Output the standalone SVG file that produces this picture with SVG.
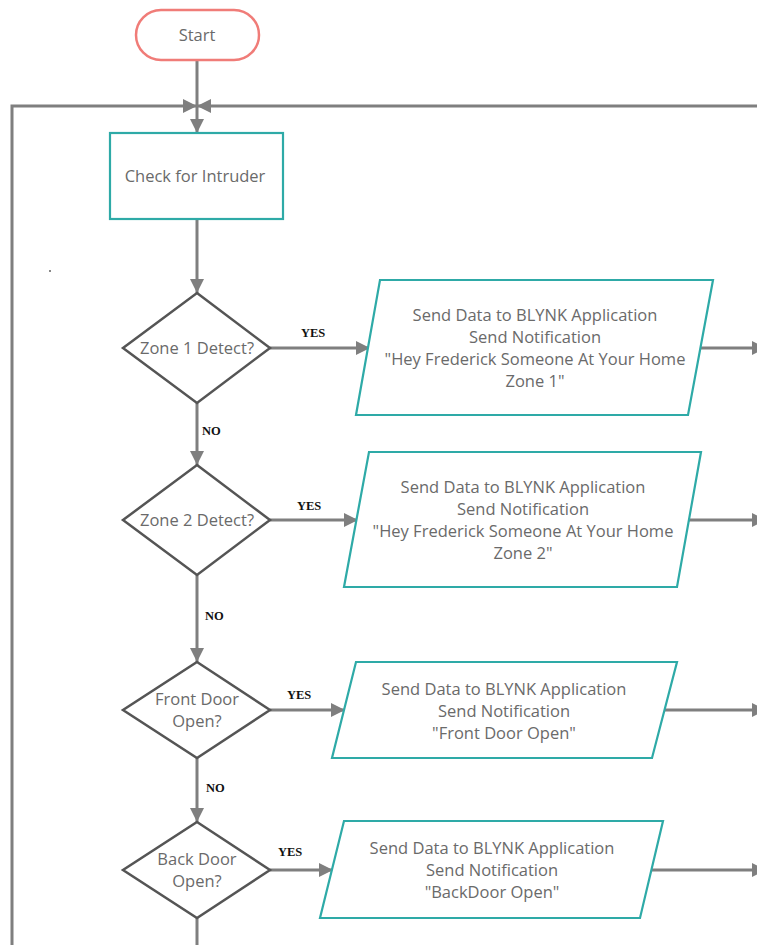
<svg xmlns="http://www.w3.org/2000/svg" width="757" height="945" viewBox="0 0 757 945">
<defs>
<marker id="ah" markerUnits="userSpaceOnUse" markerWidth="16" markerHeight="16" viewBox="0 0 16 16" refX="14" refY="8" orient="auto">
<path d="M0,1 L14,8 L0,15 Z" fill="#7f7f7f"/>
</marker>
</defs>
<style>
.conn{fill:none;stroke:#7f7f7f;stroke-width:3}
.box{fill:#fff;stroke:#2eaaa7;stroke-width:2.2}
.dia{fill:#fff;stroke:#555;stroke-width:2.5}
.t{font-family:"Open Sans","Noto Sans",sans-serif;font-size:16.5px;fill:#6a6a6a;text-anchor:middle}
.lbl{font-family:"Liberation Serif","Times New Roman",serif;font-size:12.5px;font-weight:bold;fill:#111}
</style>
<rect width="757" height="945" fill="#fff"/>
<g id="connectors">
<path class="conn" d="M197,60 V133" marker-end="url(#ah)"/>
<path class="conn" d="M12,945 V106 H197" marker-end="url(#ah)"/>
<path class="conn" d="M757,106 H197" marker-end="url(#ah)"/>
<path class="conn" d="M197,219 V293" marker-end="url(#ah)"/>
<path class="conn" d="M270,348 H370" marker-end="url(#ah)"/>
<path class="conn" d="M700,348 H766" marker-end="url(#ah)"/>
<path class="conn" d="M197,403 V465" marker-end="url(#ah)"/>
<path class="conn" d="M270,520 H358" marker-end="url(#ah)"/>
<path class="conn" d="M689,520 H766" marker-end="url(#ah)"/>
<path class="conn" d="M197,575 V662" marker-end="url(#ah)"/>
<path class="conn" d="M270,710 H345" marker-end="url(#ah)"/>
<path class="conn" d="M665,710 H766" marker-end="url(#ah)"/>
<path class="conn" d="M197,758 V822" marker-end="url(#ah)"/>
<path class="conn" d="M270,870 H333" marker-end="url(#ah)"/>
<path class="conn" d="M652,870 H766" marker-end="url(#ah)"/>
<path class="conn" d="M197,918 V945"/>
<text class="lbl" x="301" y="337">YES</text>
<text class="lbl" x="297" y="510">YES</text>
<text class="lbl" x="287" y="699">YES</text>
<text class="lbl" x="278" y="856">YES</text>
<text class="lbl" x="202" y="435">NO</text>
<text class="lbl" x="205" y="620">NO</text>
<text class="lbl" x="206" y="792">NO</text>
</g>
<rect x="49" y="270" width="2" height="2" fill="#888"/>
<g id="start">
<rect x="136" y="10" width="123" height="50" rx="25" fill="#fff" stroke="#f07c78" stroke-width="2.5"/>
<text class="t" x="197" y="41">Start</text>
</g>
<g id="check">
<rect class="box" x="110" y="133" width="173" height="86"/>
<text class="t" x="195" y="182">Check for Intruder</text>
</g>
<g id="zone1">
<path class="dia" d="M197,293 L270,348 L197,403 L123,348 Z"/>
<text class="t" x="197" y="354">Zone 1 Detect?</text>
</g>
<g id="send1">
<path class="box" d="M380,280 L713,280 L688,415 L356,415 Z"/>
<text class="t" x="535" y="321">Send Data to BLYNK Application</text>
<text class="t" x="535" y="343">Send Notification</text>
<text class="t" x="535" y="365">"Hey Frederick Someone At Your Home</text>
<text class="t" x="535" y="387">Zone 1"</text>
</g>
<g id="zone2">
<path class="dia" d="M197,465 L270,520 L197,575 L123,520 Z"/>
<text class="t" x="197" y="526">Zone 2 Detect?</text>
</g>
<g id="send2">
<path class="box" d="M369,452 L701,452 L677,587 L344,587 Z"/>
<text class="t" x="523" y="493">Send Data to BLYNK Application</text>
<text class="t" x="523" y="515">Send Notification</text>
<text class="t" x="523" y="537">"Hey Frederick Someone At Your Home</text>
<text class="t" x="523" y="559">Zone 2"</text>
</g>
<g id="front">
<path class="dia" d="M197,662 L270,710 L197,758 L123,710 Z"/>
<text class="t" x="197" y="705">Front Door</text>
<text class="t" x="197" y="727">Open?</text>
</g>
<g id="send3">
<path class="box" d="M356,662 L677,662 L652,758 L332,758 Z"/>
<text class="t" x="504" y="695">Send Data to BLYNK Application</text>
<text class="t" x="504" y="717">Send Notification</text>
<text class="t" x="504" y="739">"Front Door Open"</text>
</g>
<g id="back">
<path class="dia" d="M197,822 L270,870 L197,918 L123,870 Z"/>
<text class="t" x="197" y="865">Back Door</text>
<text class="t" x="197" y="887">Open?</text>
</g>
<g id="send4">
<path class="box" d="M344,821 L663,821 L640,918 L320,918 Z"/>
<text class="t" x="492" y="854">Send Data to BLYNK Application</text>
<text class="t" x="492" y="876">Send Notification</text>
<text class="t" x="492" y="898">"BackDoor Open"</text>
</g>
</svg>
